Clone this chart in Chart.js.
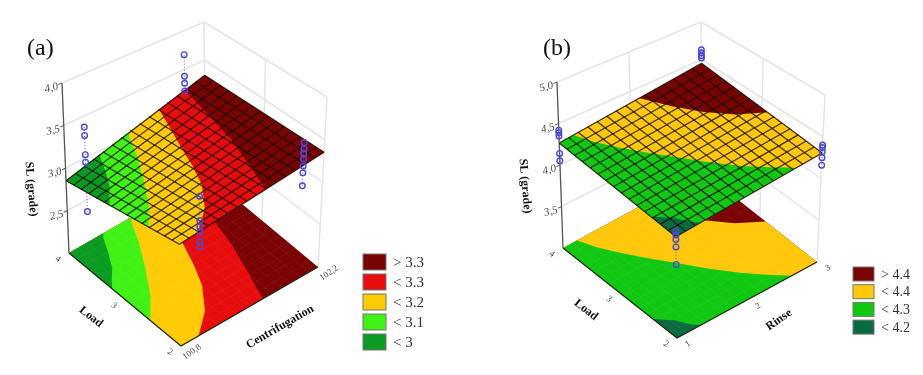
<!DOCTYPE html>
<html lang="en">
<head>
<meta charset="UTF-8">
<title>SL response surfaces</title>
<script src="https://cdn.jsdelivr.net/npm/chart.js"></script>
<style>
    body { margin: 0; background: #fff; width: 923px; height: 375px; overflow: hidden; }
    canvas { position: absolute; top: 0; }
    #panelA { left: 0; }
    #panelB { left: 461px; }
</style>
</head>
<body>
<canvas id="panelA" width="461" height="375"></canvas>
<canvas id="panelB" width="462" height="375"></canvas>
<script>
// ---- panel (a) data ----
const centrifugationRange = [100.8, 102.2];
const centrifugationTicks = ["100,8", "102,2"];
const loadRange = [2, 4];
const loadTicks = [2, 3, 4];
const slRangeA = [2, 4];
const slTicksA = [2.5, 3, 3.5, 4];
const legendLabelsA = ["> 3.3", "< 3.3", "< 3.2", "< 3.1", "< 3"];
const bandColorsA = ["#7a0303", "#e80c0c", "#ffcb05", "#3ff214", "#0b9a22"];
// fitted SL at corners: front, right, left, back
const surfaceA = [3.07, 3.35, 2.85, 3.30];
// contour regions, [centrifugation, load]
const regionA33 = [[100.8, 2], [102.2, 2], [102.2, 4], [100.8, 4]];
const regionA32 = [[101.64, 2], [101.68, 2.2], [101.73, 2.4], [101.79, 2.68], [101.85, 2.96], [101.93, 3.5], [102.0, 4], [100.8, 4], [100.8, 2]];
const regionA31 = [[100.98, 2], [101.2, 2.27], [101.37, 2.62], [101.47, 2.95], [101.55, 3.27], [101.65, 3.65], [101.74, 4], [100.8, 4], [100.8, 2]];
const regionA30 = [[100.8, 2.54], [100.98, 2.86], [101.15, 3.25], [101.29, 3.6], [101.40, 3.93], [101.44, 4], [100.8, 4]];
const regionA29 = [[100.8, 3.23], [100.87, 3.36], [100.95, 3.49], [101.04, 3.72], [101.12, 3.95], [101.15, 4], [100.8, 4]];
// replicate runs, SL values
const repA_101_4 = [3.37, 3.27, 3.04, 2.95, 2.36];
const repA_102_4 = [3.69, 3.41, 3.32, 3.22];
const repA_102_2 = [3.57, 3.5, 3.44, 3.38, 3.3, 3.22, 3.07];
const repA_101_2 = [3.48, 3.22, 3.15, 3.1, 3.0, 2.94];

// ---- panel (b) data ----
const rinseRange = [1, 3];
const rinseTicks = [1, 2, 3];
const slRangeB = [3, 5];
const slTicksB = [3.5, 4, 4.5, 5];
const legendLabelsB = ["> 4.4", "< 4.4", "< 4.3", "< 4.2"];
const bandColorsB = ["#7a0303", "#ffc80a", "#10c812", "#0a6a42"];
const surfaceB = [4.1, 4.305, 4.265, 4.45];
const regionB44 = [[1, 2], [3, 2], [3, 4], [1, 4]];
const regionB43 = [[3, 2.9], [2.72, 3.1], [2.49, 3.36], [2.3, 3.66], [2.12, 4], [1, 4], [1, 2], [3, 2]];
const regionB42 = [[2.64, 2], [2.43, 2.2], [2.23, 2.41], [2.0, 2.7], [1.80, 2.99], [1.6, 3.27], [1.43, 3.53], [1.3, 3.76], [1.20, 4], [1, 4], [1, 2]];
const regionB41 = [[1.33, 2], [1.24, 2.12], [1.17, 2.25], [1.08, 2.34], [1, 2.42], [1, 2]];
const repB_1_4 = [4.42, 4.39, 4.35, 4.14, 4.05];
const repB_3_4 = [4.63, 4.59, 4.55, 4.52];
const repB_3_2 = [4.4, 4.37, 4.32, 4.25, 4.16];
const repB_1_2 = [4.16, 4.12, 4.07, 3.99, 3.8];

const panelA = {
    id: "panelA", xMin: 0, xMax: 461,
    letter: "(a)", letterAt: [27, 55],
    uRange: centrifugationRange, vRange: loadRange, wRange: slRangeA, wTicks: slTicksA,
    uTicks: [[100.8, centrifugationTicks[0]], [102.2, centrifugationTicks[1]]],
    vTicks: loadTicks,
    uMidLines: [],
    surface: surfaceA,
    regions: [regionA33, regionA32, regionA31, regionA30, regionA29],
    colors: bandColorsA,
    legend: legendLabelsA, legendAt: [363, 254], legendPitch: 20, swatch: [23, 16], legendFont: 15,
    reps: [[101, 4, repA_101_4], [102, 4, repA_102_4], [102, 2, repA_102_2], [101, 2, repA_101_2]],
    uName: "Centrifugation", uNameAt: [280, 327], uNameRot: -30,
    vNameAt: [91, 317], slNameAt: [31, 189],
    mesh: 15,
    // projected cube corners (floor then top): front, right, left, back
    floor: [[181, 346], [318, 267], [69, 253], [206, 174]],
    top: [[178, 156], [327, 97], [62, 83], [204, 22]]
};

const panelB = {
    id: "panelB", xMin: 461, xMax: 923,
    letter: "(b)", letterAt: [543, 55],
    uRange: rinseRange, vRange: loadRange, wRange: slRangeB, wTicks: slTicksB,
    uTicks: rinseTicks.map(t => [t, String(t)]),
    vTicks: loadTicks,
    uMidLines: [2],
    surface: surfaceB,
    regions: [regionB44, regionB43, regionB42, regionB41],
    colors: bandColorsB,
    legend: legendLabelsB, legendAt: [853, 267], legendPitch: 17.7, swatch: [21, 14], legendFont: 14,
    reps: [[1, 4, repB_1_4], [3, 4, repB_3_4], [3, 2, repB_3_2], [1, 2, repB_1_2]],
    uName: "Rinse", uNameAt: [779, 320], uNameRot: -35,
    vNameAt: [586, 310], slNameAt: [525, 186],
    mesh: 15,
    floor: [[677, 338], [817, 262], [563, 248], [703, 172]],
    top: [[675, 154], [825, 95], [557, 82], [701, 22]]
};

function makeProjector(p) {
    const lerp = (a, b, t) => [a[0] + (b[0] - a[0]) * t, a[1] + (b[1] - a[1]) * t];
    const bilerp = (q, s, t) => lerp(lerp(q[0], q[1], s), lerp(q[2], q[3], s), t);
    return function (u, v, w) {
        const s = (u - p.uRange[0]) / (p.uRange[1] - p.uRange[0]);
        const t = (v - p.vRange[0]) / (p.vRange[1] - p.vRange[0]);
        const h = (w - p.wRange[0]) / (p.wRange[1] - p.wRange[0]);
        const xy = lerp(bilerp(p.floor, s, t), bilerp(p.top, s, t), h);
        return { x: xy[0], y: xy[1] };
    };
}

function buildPanel(p) {
    const project = makeProjector(p);
    const [u0, u1] = p.uRange;
    const [v0, v1] = p.vRange;
    const [w0, w1] = p.wRange;
    const surfaceAt = (u, v) => {
        const s = (u - u0) / (u1 - u0), t = (v - v0) / (v1 - v0);
        const q = p.surface;
        return (q[0] * (1 - s) + q[1] * s) * (1 - t) + (q[2] * (1 - s) + q[3] * s) * t;
    };
    const datasets = [];
    const line = (pts, color, width, dash) => datasets.push({
        data: pts, borderColor: color, borderWidth: width, borderDash: dash || [],
        pointRadius: 0, fill: false, tension: 0
    });
    const wallColor = "#e5e5e5";

    // back walls
    p.wTicks.forEach(w => {
        line([project(u0, v1, w), project(u1, v1, w)], wallColor, 1.5);
        line([project(u1, v1, w), project(u1, v0, w)], wallColor, 1.5);
    });
    line([project(u1, v1, w0), project(u1, v1, w1)], wallColor, 1.5);
    line([project(u1, v0, w0), project(u1, v0, w1)], wallColor, 1.5);
    line([project(u1, 3, w0), project(u1, 3, w1)], wallColor, 1.5);
    p.uMidLines.forEach(u => line([project(u, v1, w0), project(u, v1, w1)], wallColor, 1.5));

    // floor contour map
    p.regions.forEach((poly, i) => datasets.push({
        data: poly.map(c => project(c[0], c[1], w0)),
        borderColor: p.colors[i], borderWidth: 0, backgroundColor: p.colors[i],
        pointRadius: 0, fill: "shape", tension: 0
    }));
    for (let i = 1; i < p.mesh; i++) {
        const u = u0 + (u1 - u0) * i / p.mesh, v = v0 + (v1 - v0) * i / p.mesh;
        line([project(u, v0, w0), project(u, v1, w0)], "rgba(255,255,255,0.05)", 1);
        line([project(u0, v, w0), project(u1, v, w0)], "rgba(255,255,255,0.05)", 1);
    }
    line([project(u0, v1, w0), project(u0, v0, w0), project(u1, v0, w0)], "#1c2a10", 1.3);

    // z axis
    line([project(u0, v1, w0), project(u0, v1, w1)], "#555", 1.3);
    p.wTicks.forEach(w => line([project(u0, v1, w), project(u0 - (u1 - u0) * 0.025, v1, w)], "#555", 1));

    // fitted surface with the same contour regions
    p.regions.forEach((poly, i) => datasets.push({
        data: poly.map(c => project(c[0], c[1], surfaceAt(c[0], c[1]))),
        borderColor: p.colors[i], borderWidth: 0, backgroundColor: p.colors[i],
        pointRadius: 0, fill: "shape", tension: 0
    }));
    for (let i = 0; i <= p.mesh; i++) {
        const u = u0 + (u1 - u0) * i / p.mesh, v = v0 + (v1 - v0) * i / p.mesh;
        line([project(u, v0, surfaceAt(u, v0)), project(u, v1, surfaceAt(u, v1))], "rgba(25,15,5,0.85)", 1.2);
        line([project(u0, v, surfaceAt(u0, v)), project(u1, v, surfaceAt(u1, v))], "rgba(25,15,5,0.85)", 1.2);
    }

    // replicate runs
    p.reps.forEach(([u, v, values]) => {
        const pts = values.map(w => project(u, v, w));
        line(pts, "#5a5ae0", 1, [1, 2]);
        datasets.push({
            data: pts, showLine: false, pointRadius: 2.8, pointBorderWidth: 1.4,
            pointBorderColor: "#4a4ad8", pointBackgroundColor: "rgba(0,0,0,0)", fill: false
        });
    });

    // first dataset is on top by default, want painter's order
    datasets.forEach((d, i) => { d.order = datasets.length - i; d.clip = false; });

    const labelsPlugin = {
        id: "labels",
        afterDraw(chart) {
            const ctx = chart.ctx;
            const sx = chart.scales.x, sy = chart.scales.y;
            const text = (str, x, y, font, color, rot) => {
                ctx.save();
                ctx.translate(sx.getPixelForValue(x), sy.getPixelForValue(y));
                ctx.rotate((rot || 0) * Math.PI / 180);
                ctx.font = font;
                ctx.fillStyle = color;
                ctx.textAlign = "center";
                ctx.textBaseline = "middle";
                ctx.fillText(str, 0, 0);
                ctx.restore();
            };
            const tickFont = "italic 11px 'Liberation Serif'";
            const nameFont = "bold 12px 'Liberation Serif'";
            const tickColor = "#444";
            ctx.save();
            ctx.font = "24px 'Liberation Serif'";
            ctx.fillStyle = "#111";
            ctx.fillText(p.letter, sx.getPixelForValue(p.letterAt[0]), sy.getPixelForValue(p.letterAt[1]));
            ctx.restore();

            p.wTicks.forEach(w => {
                const a = project(u0, v1, w);
                text(w.toFixed(1).replace(".", ","), a.x - 10.5, a.y + 5, tickFont, tickColor, -15);
            });
            p.vTicks.forEach(v => {
                const a = project(u0, v, w0);
                text(String(v), a.x - 11, a.y + 6, "9px 'Liberation Serif'", tickColor, 35);
            });
            p.uTicks.forEach(([u, str]) => {
                const a = project(u, v0, w0);
                text(str, a.x + 11, a.y + 6, "9px 'Liberation Serif'", tickColor, -35);
            });
            text("SL (grade)", p.slNameAt[0], p.slNameAt[1], nameFont, "#111", 85);
            text("Load", p.vNameAt[0], p.vNameAt[1], nameFont, "#111", 38);
            text(p.uName, p.uNameAt[0], p.uNameAt[1], nameFont, "#111", p.uNameRot);

            // legend
            p.legend.forEach((label, i) => {
                const x = sx.getPixelForValue(p.legendAt[0]);
                const y = sy.getPixelForValue(p.legendAt[1] + i * p.legendPitch);
                ctx.fillStyle = p.colors[i];
                ctx.strokeStyle = "#777";
                ctx.lineWidth = 1;
                ctx.fillRect(x, y, p.swatch[0], p.swatch[1]);
                ctx.strokeRect(x, y, p.swatch[0], p.swatch[1]);
                ctx.font = p.legendFont + "px 'Liberation Serif'";
                ctx.fillStyle = "#333";
                ctx.textAlign = "left";
                ctx.textBaseline = "middle";
                ctx.fillText(label, x + p.swatch[0] + 7, y + p.swatch[1] / 2 + 1);
            });
        }
    };

    new Chart(document.getElementById(p.id), {
        type: "line",
        data: { datasets: datasets },
        plugins: [labelsPlugin],
        options: {
            responsive: false,
            animation: false,
            layout: { padding: 0, autoPadding: false },
            plugins: { legend: { display: false }, tooltip: { enabled: false } },
            scales: {
                x: { type: "linear", min: p.xMin, max: p.xMax, display: false },
                y: { type: "linear", min: 0, max: 375, reverse: true, display: false }
            }
        }
    });
}

buildPanel(panelA);
buildPanel(panelB);
</script>
</body>
</html>
